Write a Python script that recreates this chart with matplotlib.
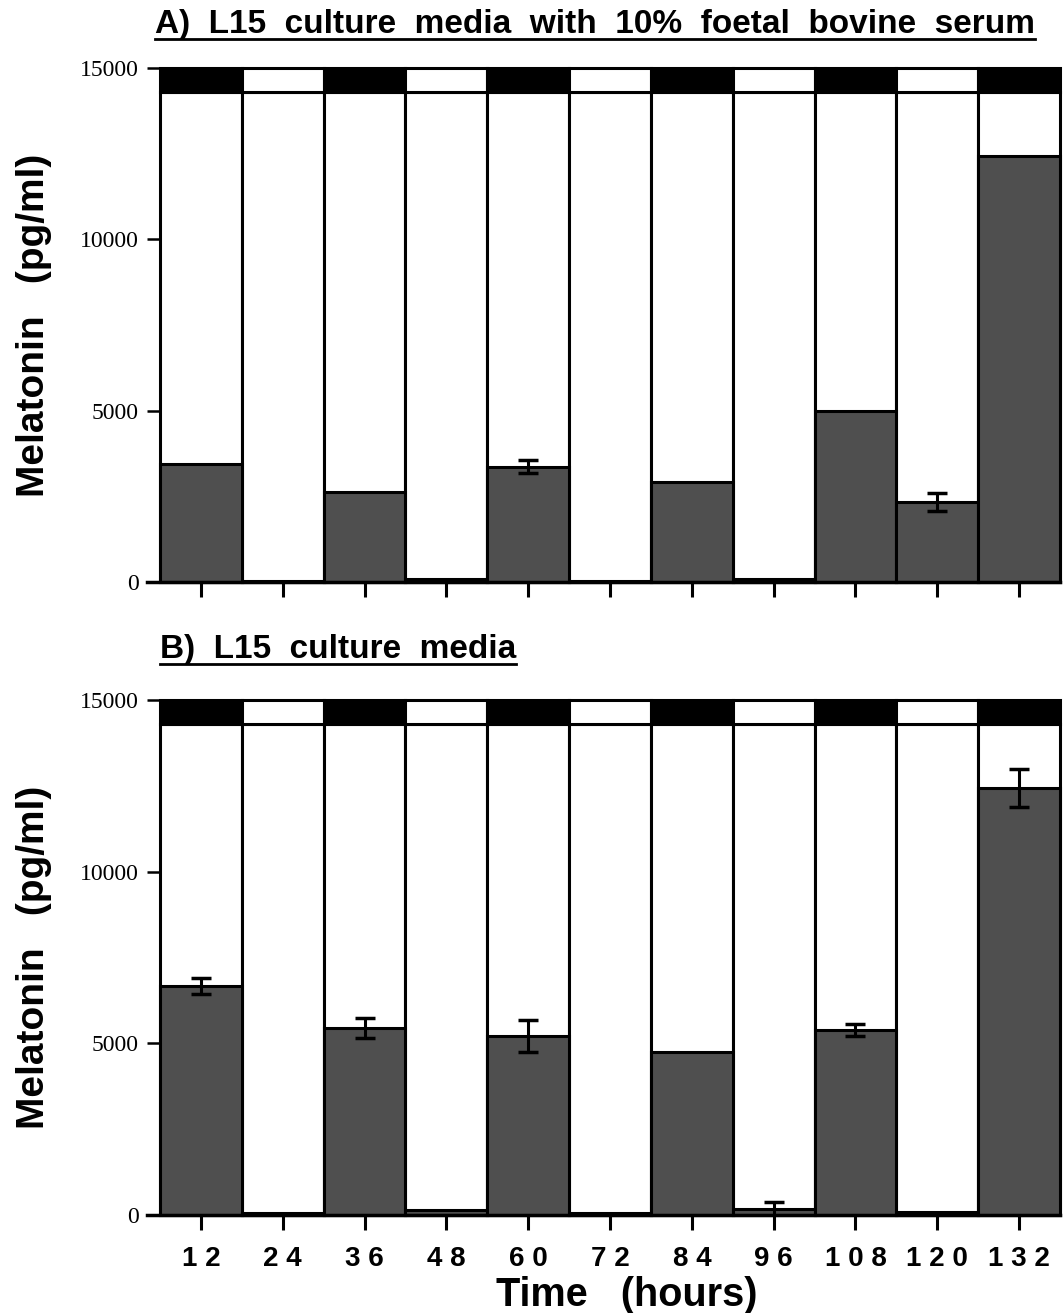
#!/usr/bin/env python3
"""
Melatonin release from cultured pineal glands, two culture media.
Bars = mean melatonin per 12 h sample, top band = light/dark phase.
"""

import numpy as np
import matplotlib
matplotlib.use("Agg")
import matplotlib.pyplot as plt
from matplotlib.lines import Line2D

TIME_H = [12, 24, 36, 48, 60, 72, 84, 96, 108, 120, 132]
TICK_LABELS = ["1 2", "2 4", "3 6", "4 8", "6 0", "7 2", "8 4", "9 6", "1 0 8", "1 2 0", "1 3 2"]
DARK_PHASE = [True, False, True, False, True, False, True, False, True, False, True]

# panel A: L15 + 10% FBS
MEL_A = [3440, 20, 2630, 100, 3370, 30, 2920, 100, 4990, 2330, 12430]
SE_A = [np.nan, np.nan, np.nan, np.nan, 190, np.nan, np.nan, np.nan, np.nan, 260, np.nan]
# panel B: L15 only
MEL_B = [6670, 50, 5450, 150, 5210, 50, 4750, 170, 5390, 80, 12440]
SE_B = [230, np.nan, 300, np.nan, 470, np.nan, np.nan, 210, 180, np.nan, 550]

TITLE_A = "A)  L15  culture  media  with  10%  foetal  bovine  serum"
TITLE_B = "B)  L15  culture  media"
YLABEL = "Melatonin   (pg/ml)"
XLABEL = "Time   (hours)"

BAND_LOW = 14300
YMAX = 15000
BAR_W = 12
GREY = "#4f4f4f"
LW = 2.2

plt.rcParams["font.family"] = ["Liberation Sans", "DejaVu Sans"]

fig = plt.figure(figsize=(10.64, 13.13), dpi=100)
W, H = 1064, 1313


def px_axes(left, top, right, bottom):
    return fig.add_axes([left / W, 1 - bottom / H, (right - left) / W, (bottom - top) / H])


def draw_panel(ax, mel, se, show_labels):
    t = np.array(TIME_H, dtype=float)
    # white column behind each sample
    ax.bar(t, [BAND_LOW] * len(t), width=BAR_W, color="white", edgecolor="black",
           linewidth=LW, zorder=1, clip_on=False)
    ax.bar(t, mel, width=BAR_W, color=GREY, edgecolor="black", linewidth=LW,
           zorder=2, clip_on=False)
    ax.errorbar(t, mel, yerr=se, fmt="none", ecolor="black", elinewidth=2.2,
                capsize=7.5, capthick=2.5, zorder=3)
    band_col = ["black" if d else "white" for d in DARK_PHASE]
    ax.bar(t, [YMAX - BAND_LOW] * len(t), bottom=BAND_LOW, width=BAR_W,
           color=band_col, edgecolor="black", linewidth=LW, zorder=4, clip_on=False)

    ax.set_xlim(6 - 13 / 6.818, 138)
    ax.set_ylim(0, YMAX)
    for s in ["left", "top", "right"]:
        ax.spines[s].set_visible(False)
    ax.spines["bottom"].set_linewidth(2.5)

    ax.set_yticks([0, 5000, 10000, 15000])
    ax.set_yticklabels(["0", "5000", "10000", "15000"], family="Liberation Serif", fontsize=17)
    ax.tick_params(axis="y", direction="in", length=9, width=1.8, pad=6)

    ax.set_xticks(TIME_H)
    if show_labels:
        ax.set_xticklabels(TICK_LABELS, fontsize=20, fontweight="bold")
    else:
        ax.set_xticklabels([])
    ax.tick_params(axis="x", direction="out", length=11, width=2.2, pad=11)

    ax.set_ylabel(YLABEL, fontsize=28, fontweight="bold")
    ax.yaxis.set_label_coords(-0.104, 0.5)


ax_a = px_axes(147, 68, 1060, 582)
ax_b = px_axes(147, 700, 1060, 1215)
draw_panel(ax_a, MEL_A, SE_A, False)
draw_panel(ax_b, MEL_B, SE_B, True)

fig.text(627 / W, 1 - 1306 / H, XLABEL, fontsize=28.5, fontweight="bold",
         ha="center", va="baseline")

t_a = fig.text(155 / W, 1 - 33 / H, TITLE_A, fontsize=24, fontweight="bold",
               ha="left", va="baseline")
t_b = fig.text(160 / W, 1 - 658 / H, TITLE_B, fontsize=24, fontweight="bold",
               ha="left", va="baseline")

# underline the panel titles
fig.canvas.draw()
r = fig.canvas.get_renderer()
for txt, y_px in ((t_a, 39), (t_b, 664)):
    bb = txt.get_window_extent(r)
    fig.add_artist(Line2D([bb.x0 / W, bb.x1 / W], [1 - y_px / H] * 2,
                          color="black", linewidth=2, transform=fig.transFigure))

fig.savefig("out.png", dpi=100)
